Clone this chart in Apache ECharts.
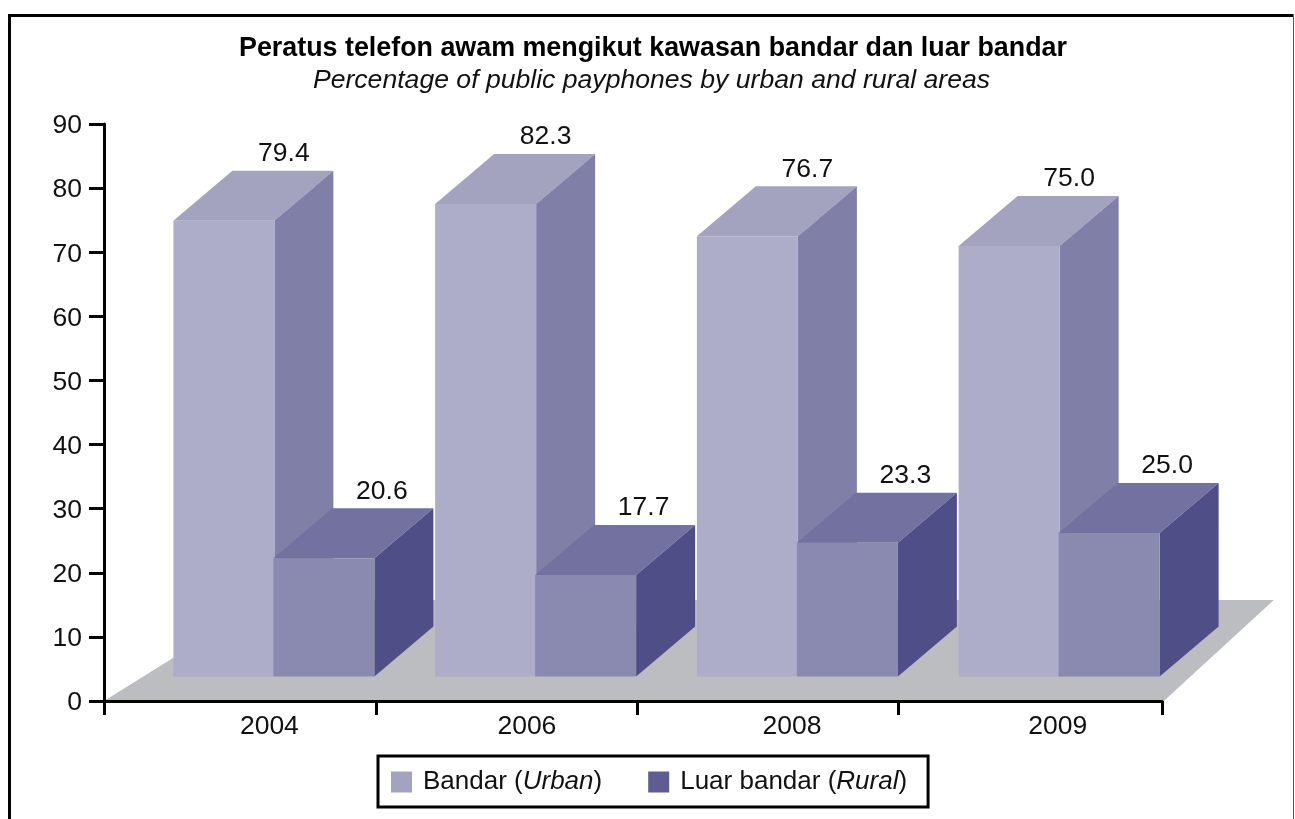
<!DOCTYPE html>
<html>
<head>
<meta charset="utf-8">
<style>
  html, body { margin: 0; padding: 0; background: #fff; }
  #chart { width: 1295px; height: 819px; }
</style>
<script src="https://cdn.jsdelivr.net/npm/echarts@6/dist/echarts.min.js"></script>
</head>
<body>
<div id="chart"></div>
<script>
const years = ['2004', '2006', '2008', '2009']
const urban = [79.4, 82.3, 76.7, 75.0]
const rural = [20.6, 17.7, 23.3, 25.0]
const yTicks = [0, 10, 20, 30, 40, 50, 60, 70, 80, 90]

// x axis is in units of one group width, ticks and labels are not evenly placed in the original
const xTickPos = [0, 1.04, 2.037, 3.034, 4.043]
const xLabelPos = [0.632, 1.616, 2.629, 3.645]

const FONT = '"Liberation Sans", Arial, sans-serif'
const DX = 59
const DY = -50
const BAR_W = 101

const urbanFaces = { front: '#adadca', top: '#a3a2bf', side: '#807fa8' }
const ruralFaces = { front: '#8a89af', top: '#73719f', side: '#504e87' }

const poly = (points, fill, z2) => ({
  type: 'polygon',
  z2: z2,
  shape: { points: points },
  style: { fill: fill }
})

// one box with front, top and side face plus value label
const boxRenderer = (faces, offset, labelShift) => (params, api) => {
  const base = api.coord([api.value(0), 0])
  const top = api.coord([api.value(0), api.value(1)])
  const l = base[0] + offset
  const r = l + BAR_W
  const b = base[1]
  const t = top[1]
  return {
    type: 'group',
    children: [
      poly([[l, b], [r, b], [r, t], [l, t]], faces.front, 3),
      poly([[l, t], [r, t], [r + DX, t + DY], [l + DX, t + DY]], faces.top, 2),
      poly([[r, b], [r + DX, b + DY], [r + DX, t + DY], [r, t]], faces.side, 2),
      {
        type: 'text',
        z2: 4,
        style: {
          x: (l + r) / 2 + DX + labelShift,
          y: t + DY - 17,
          text: api.value(1).toFixed(1),
          fill: '#111',
          font: '26.5px ' + FONT,
          textAlign: 'center',
          textVerticalAlign: 'middle'
        }
      }
    ]
  }
}

const floorRenderer = (params, api) => {
  const a = api.coord([0, 0])
  const b = api.coord([4.05, 0])
  return poly([a, b, [b[0] + 110, b[1] - 101], [a[0] + 162, a[1] - 101]], '#bcbdc0', 0)
}

const chart = echarts.init(document.getElementById('chart'))

chart.setOption({
  backgroundColor: '#fff',
  animation: false,
  title: [
    {
      text: 'Peratus telefon awam mengikut kawasan bandar dan luar bandar',
      left: 648,
      top: 30,
      textAlign: 'center',
      textStyle: { fontFamily: FONT, fontSize: 26.85, fontWeight: 'bold', color: '#000' }
    },
    {
      text: 'Percentage of public payphones by urban and rural areas',
      left: 646.5,
      top: 62,
      textAlign: 'center',
      textStyle: { fontFamily: FONT, fontSize: 26.6, fontWeight: 'normal', fontStyle: 'italic', color: '#111' }
    }
  ],
  legend: {
    left: 378,
    top: 756,
    padding: [13, 21, 12, 13],
    borderColor: '#000',
    borderWidth: 3,
    backgroundColor: '#fff',
    icon: 'rect',
    itemWidth: 21,
    itemHeight: 21,
    itemGap: 46,
    selectedMode: false,
    data: ['Bandar (Urban)', 'Luar bandar (Rural)'],
    formatter: name => {
      const m = name.match(/^(.*\()(.*)(\))$/)
      return '{s| }{n|' + m[1] + '}{i|' + m[2] + '}{n|' + m[3] + '}'
    },
    textStyle: {
      fontFamily: FONT,
      rich: {
        s: { width: 6, fontSize: 10 },
        n: { fontFamily: FONT, fontSize: 26, color: '#111' },
        i: { fontFamily: FONT, fontSize: 26, fontStyle: 'italic', color: '#111' }
      }
    }
  },
  grid: [
    { left: 104, top: 124, width: 1058, height: 577 },
    { left: 142.5, top: 124, width: 1047, height: 552.5 }
  ],
  xAxis: [
    {
      gridIndex: 0,
      type: 'value',
      min: 0,
      max: 4.043,
      splitLine: { show: false },
      axisLine: { lineStyle: { color: '#000', width: 3 } },
      axisTick: { length: 14, lineStyle: { color: '#000', width: 3 }, customValues: xTickPos },
      axisLabel: {
        customValues: xLabelPos,
        formatter: v => years[xLabelPos.indexOf(v)],
        margin: 12,
        color: '#111',
        fontFamily: FONT,
        fontSize: 26.5
      }
    },
    { gridIndex: 1, type: 'category', data: years, show: false }
  ],
  yAxis: [
    {
      gridIndex: 0,
      type: 'value',
      min: 0,
      max: 90,
      interval: 10,
      splitLine: { show: false },
      axisLine: { show: true, lineStyle: { color: '#000', width: 3 } },
      axisTick: { show: true, length: 15, lineStyle: { color: '#000', width: 3 } },
      axisLabel: {
        margin: 22,
        verticalAlign: 'top',
        lineHeight: 4,
        color: '#111',
        fontFamily: FONT,
        fontSize: 26.5,
        formatter: v => (yTicks.includes(v) ? String(v) : '')
      }
    },
    { gridIndex: 1, type: 'value', min: 0, max: 96.25, show: false }
  ],
  series: [
    {
      name: 'floor',
      type: 'custom',
      xAxisIndex: 0,
      yAxisIndex: 0,
      z: 0,
      silent: true,
      data: [[0, 0]],
      renderItem: floorRenderer
    },
    {
      name: 'Bandar (Urban)',
      type: 'custom',
      xAxisIndex: 1,
      yAxisIndex: 1,
      z: 3,
      itemStyle: { color: '#a3a2c0' },
      encode: { x: 0, y: 1 },
      data: urban.map((v, i) => [i, v]),
      renderItem: boxRenderer(urbanFaces, -100, 1)
    },
    {
      name: 'Luar bandar (Rural)',
      type: 'custom',
      xAxisIndex: 1,
      yAxisIndex: 1,
      z: 4,
      itemStyle: { color: '#5e5c90' },
      encode: { x: 0, y: 1 },
      data: rural.map((v, i) => [i, v]),
      renderItem: boxRenderer(ruralFaces, 0, -1)
    }
  ],
  graphic: [
    {
      type: 'polyline',
      silent: true,
      shape: { points: [[9.5, 819], [9.5, 15.5], [1293.5, 15.5]] },
      style: { stroke: '#000', lineWidth: 3, fill: null }
    },
    {
      type: 'line',
      silent: true,
      shape: { x1: 1293.5, y1: 15, x2: 1293.5, y2: 819 },
      style: { stroke: '#555', lineWidth: 1 }
    }
  ]
})
</script>
</body>
</html>
